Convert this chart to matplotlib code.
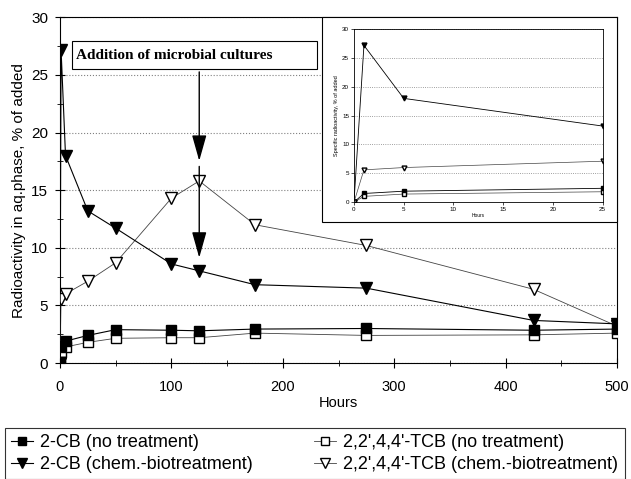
import numpy as np
import matplotlib.pyplot as plt
from matplotlib.patches import Rectangle
from matplotlib.lines import Line2D

plt.rcParams['font.family'] = ['Liberation Sans', 'DejaVu Sans']

# sampling times (hours)
hours = [0, 1, 5, 25, 50, 100, 125, 175, 275, 425, 500]

# radioactivity in aqueous phase, % of added
cb_none = [0, 1.5, 1.9, 2.4, 2.9, 2.85, 2.8, 2.95, 3.0, 2.85, 2.95]
cb_treat = [0, 27.2, 18.0, 13.2, 11.7, 8.6, 8.0, 6.8, 6.5, 3.7, 3.4]
tcb_none = [0, 1.0, 1.4, 1.8, 2.15, 2.2, 2.2, 2.6, 2.4, 2.45, 2.6]
tcb_treat = [0, 5.6, 6.0, 7.1, 8.7, 14.3, 15.8, 12.0, 10.2, 6.4, 3.2]

# inset uses the first 25 hours
n_in = 4

fig = plt.figure(figsize=(6.31, 4.79), dpi=100)
ax = fig.add_axes([0.095, 0.242, 0.883, 0.722])

lw = 0.8
ax.plot(hours, cb_none, '-s', color='black', lw=lw, ms=7, mfc='black', mec='black', zorder=5)
ax.plot(hours, tcb_none, '-s', color='#444444', lw=0.6, ms=7, mfc='white', mec='black', zorder=4)
ax.plot(hours, cb_treat, '-v', color='black', lw=lw, ms=8, mfc='black', mec='black', zorder=5)
ax.plot(hours, tcb_treat, '-v', color='#444444', lw=0.6, ms=8, mfc='white', mec='black', zorder=4)

ax.set_xlim(0, 500)
ax.set_ylim(0, 30)
ax.set_xticks(range(0, 501, 100))
ax.set_xticks(range(0, 501, 50), minor=True)
ax.set_yticks(range(0, 31, 5))
ax.set_yticks(np.arange(0, 30.1, 2.5), minor=True)
ax.tick_params(which='both', direction='inout', labelsize=11)
ax.tick_params(which='major', length=7)
ax.tick_params(which='minor', length=5)
ax.tick_params(axis='x', which='major', pad=9, labelsize=10.5)
ax.tick_params(axis='y', which='major', pad=5)
ax.grid(axis='y', linestyle=':', color='gray', lw=0.8)
for s in ax.spines.values():
    s.set_linewidth(0.8)
ax.set_xlabel('Hours', fontsize=10.5, labelpad=1)
ax.set_ylabel('Radioactivity in aq.phase, % of added', fontsize=11)

# annotation box and arrows
ax.add_patch(Rectangle((10.8, 25.5), 220, 2.4, fc='white', ec='black', lw=0.8, zorder=6))
ax.text(14.5, 26.7, 'Addition of microbial cultures', family='Liberation Serif',
        fontweight='bold', fontsize=11, va='center', ha='left', zorder=7)
ax.annotate('', xy=(125, 17.3), xytext=(125, 25.5),
            arrowprops=dict(arrowstyle='-|>,head_length=1.6,head_width=0.45', color='black', lw=1),
            zorder=6)
ax.annotate('', xy=(125, 8.9), xytext=(125, 17.3),
            arrowprops=dict(arrowstyle='-|>,head_length=1.6,head_width=0.45', color='black', lw=1),
            zorder=6)

# inset frame
fig.add_artist(Rectangle((0.510, 0.537), 0.468, 0.428, transform=fig.transFigure,
                         fc='white', ec='black', lw=0.8, zorder=3))
axi = fig.add_axes([0.561, 0.578, 0.394, 0.361], zorder=4)
axi.plot(hours[:n_in], cb_none[:n_in], '-s', color='black', lw=0.6, ms=3, mfc='black', mec='black')
axi.plot(hours[:n_in], tcb_none[:n_in], '-s', color='#444444', lw=0.5, ms=3, mfc='white', mec='black')
axi.plot(hours[:n_in], cb_treat[:n_in], '-v', color='black', lw=0.6, ms=3.5, mfc='black', mec='black')
axi.plot(hours[:n_in], tcb_treat[:n_in], '-v', color='#444444', lw=0.5, ms=3.5, mfc='white', mec='black')
axi.set_xlim(0, 25)
axi.set_ylim(0, 30)
axi.set_xticks(range(0, 26, 5))
axi.set_yticks(range(0, 31, 5))
axi.tick_params(labelsize=4.5, length=2, width=0.5, pad=1.5)
axi.grid(axis='y', linestyle=':', color='gray', lw=0.6)
for s in axi.spines.values():
    s.set_linewidth(0.6)
axi.set_xlabel('Hours', fontsize=3.5, labelpad=1)
axi.set_ylabel('Specific radioactivity, % of added', fontsize=4, labelpad=2)

# legend below
handles = [
    Line2D([], [], color='black', lw=lw, marker='s', ms=6, mfc='black', mec='black'),
    Line2D([], [], color='black', lw=lw, marker='v', ms=7, mfc='black', mec='black'),
    Line2D([], [], color='#444444', lw=0.6, marker='s', ms=6, mfc='white', mec='black'),
    Line2D([], [], color='#444444', lw=0.6, marker='v', ms=7, mfc='white', mec='black'),
]
labels = ['2-CB (no treatment)', '2-CB (chem.-biotreatment)',
          "2,2',4,4'-TCB (no treatment)", "2,2',4,4'-TCB (chem.-biotreatment)"]
leg = fig.legend(handles, labels, ncol=2, loc='upper left',
                 bbox_to_anchor=(0.008, 1 - 428 / 479),
                 fontsize=13, handlelength=1.2, handletextpad=0.4, labelspacing=0.25,
                 columnspacing=3.4, borderpad=0.35, frameon=True, fancybox=False,
                 borderaxespad=0)
leg.get_frame().set_edgecolor('black')
leg.get_frame().set_linewidth(0.8)

fig.savefig('out.png', dpi=100)
